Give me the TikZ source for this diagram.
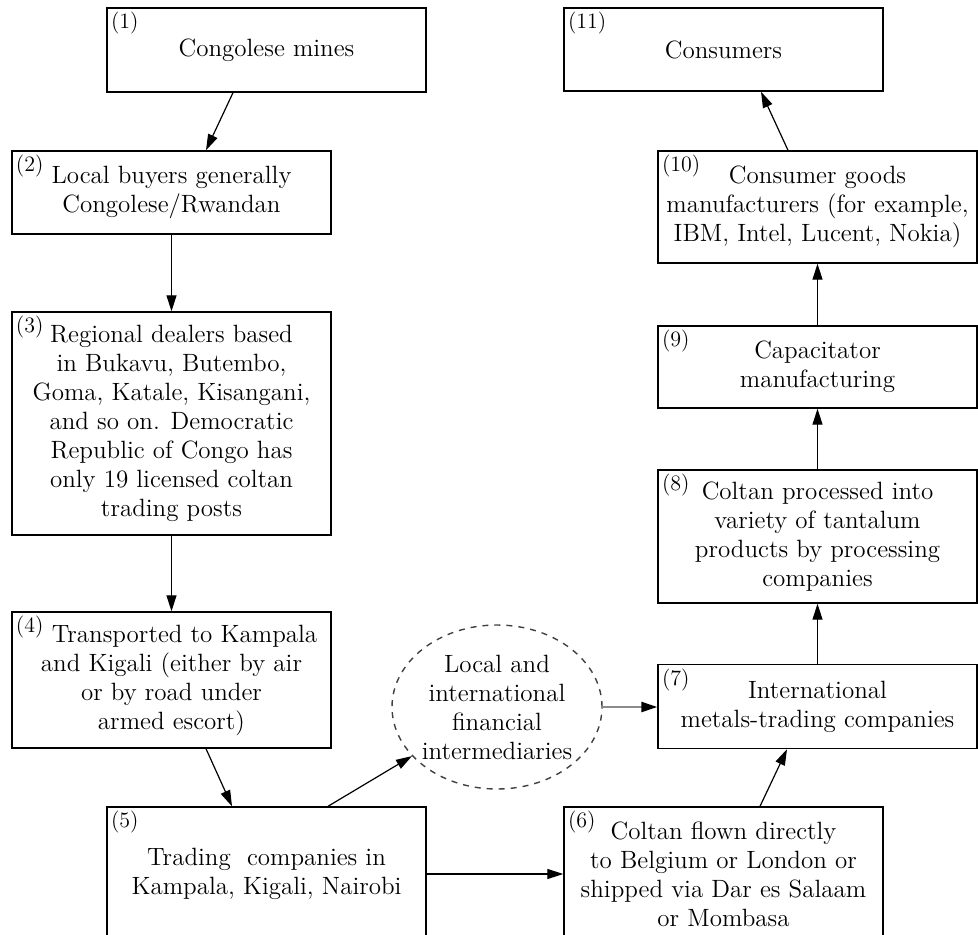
\documentclass[tikz,border=0pt]{standalone}
\usepackage{fontspec}
\usetikzlibrary{shapes.geometric,arrows.meta}
\begin{document}
\begin{tikzpicture}[x=0.5pt,y=0.5pt,line width=0.7pt]
  \tikzstyle{every node}+=[inner sep=0pt]
  \tikzstyle{stage}=[draw, minimum width=159.5pt, align=center, font=\fontsize{12.5}{14.5}\selectfont]
  \tikzstyle{num}=[anchor=north west, inner sep=2pt, font=\fontsize{11}{12}\selectfont]
  \tikzstyle{flow}=[line width=0.6pt, -{Triangle[length=8pt,width=5pt]}]
  \useasboundingbox (0,0) rectangle (978,-935);
  \clip (0,0) rectangle (978,-935);
  % left column
  \draw (266.5,-50) node [stage, minimum height=42pt] (s1) {Congolese mines};
  \draw (171.5,-192.5) node [stage, minimum height=41.5pt] (s2) {Local buyers generally\\Congolese/Rwandan};
  \draw (171.5,-423.5) node [stage, minimum height=111.5pt] (s3) {Regional dealers based\\in Bukavu, Butembo,\\Goma, Katale, Kisangani,\\and so on. Democratic\\Republic of Congo has\\only 19 licensed coltan\\trading posts};
  \draw (171.5,-680) node [stage, minimum height=68pt] (s4) {\hspace*{13pt}Transported to Kampala\\and Kigali (either by air\\or by road under\\armed escort)};
  \draw (266.5,-874) node [stage, minimum height=67pt] (s5) {Trading~ companies in\\Kampala, Kigali, Nairobi};
  % right column
  \draw (723.5,-874) node [stage, minimum height=67pt] (s6) {Coltan flown directly\\to Belgium or London or\\shipped via Dar es Salaam\\or Mombasa};
  \draw (817.5,-706.5) node [stage, minimum height=42pt] (s7) {International\\metals-trading companies};
  \draw (817.5,-536.5) node [stage, minimum height=66.5pt] (s8) {Coltan processed into\\variety of tantalum\\products by processing\\companies};
  \draw (817.5,-367) node [stage, minimum height=41pt] (s9) {Capacitator\\manufacturing};
  \draw (817.5,-207) node [stage, minimum height=56pt] (s10) {Consumer goods\\manufacturers (for example,\\IBM, Intel, Lucent, Nokia)};
  \draw (723.5,-49.5) node [stage, minimum height=41.5pt] (s11) {Consumers};
  % middle
  \draw (497,-707) node [ellipse, draw=black!75, dashed, minimum width=105pt, minimum height=82pt, inner xsep=-3pt, inner ysep=-1pt, align=center, font=\fontsize{12.5}{14.5}\selectfont] (fin) {Local and\\international\\financial\\intermediaries};
  % numbers
  \draw (s1.north west) node [num] {(1)};
  \draw (s2.north west) node [num] {(2)};
  \draw (s3.north west) node [num] {(3)};
  \draw (s4.north west) node [num] {(4)};
  \draw (s5.north west) node [num] {(5)};
  \draw (s6.north west) node [num] {(6)};
  \draw (s7.north west) node [num] {(7)};
  \draw (s8.north west) node [num] {(8)};
  \draw (s9.north west) node [num] {(9)};
  \draw (s10.north west) node [num] {(10)};
  \draw (s11.north west) node [num] {(11)};
  % flows
  \draw [flow] ([xshift=-16.75pt]s1.south) -- ([xshift=17.25pt]s2.north);
  \draw [flow] (s2.south) -- (s3.north);
  \draw [flow] (s3.south) -- (s4.north);
  \draw [flow] ([xshift=17.25pt]s4.south) -- ([xshift=-17.25pt]s5.north);
  \draw [flow] ([xshift=30.75pt]s5.north) -- (fin.210);
  \draw [flow, draw=black!45, line width=1.2pt, -{Triangle[length=8pt,width=5pt,black]}] (fin.east) -- (fin.east -| s7.west);
  \draw [flow] (s5.east) -- (s6.west);
  \draw [flow] ([xshift=18.25pt]s6.north) -- ([xshift=-15.25pt]s7.south);
  \draw [flow] (s7.north) -- (s8.south);
  \draw [flow] (s8.north) -- (s9.south);
  \draw [flow] (s9.north) -- (s10.south);
  \draw [flow] ([xshift=-14.75pt]s10.north) -- ([xshift=18.75pt]s11.south);
\end{tikzpicture}
\end{document}
